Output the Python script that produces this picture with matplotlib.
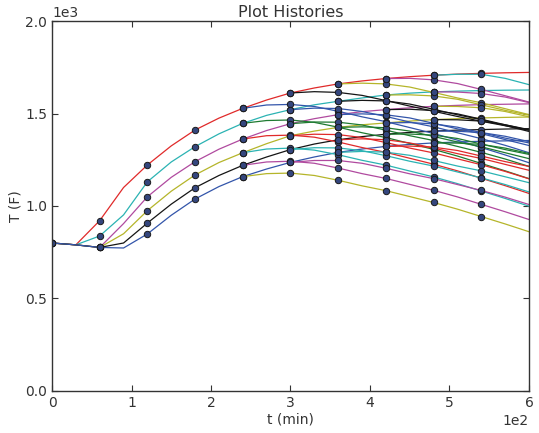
import matplotlib
matplotlib.use("Agg")
import matplotlib.pyplot as plt
from matplotlib.ticker import MultipleLocator

# time grid (min), 30-minute steps
t_full = [0, 30, 60, 90, 120, 150, 180, 210, 240, 270, 300, 330, 360, 390,
          420, 450, 480, 510, 540, 570, 600]

# main heating histories
main_red     = [800, 790, 921, 1100, 1222, 1325, 1411, 1475, 1528, 1573, 1611, 1638, 1660, 1676, 1689, 1699, 1707, 1713, 1717, 1720, 1722]
main_cyan    = [800, 790, 838, 952, 1131, 1238, 1321, 1390, 1447, 1490, 1521, 1547, 1566, 1584, 1600, 1610, 1617, 1621, 1624, 1626, 1627]
main_magenta = [800, 790, 776, 905, 1050, 1155, 1240, 1307, 1362, 1408, 1445, 1472, 1494, 1510, 1521, 1531, 1539, 1544, 1548, 1550, 1552]
main_yellow  = [800, 790, 776, 850, 975, 1080, 1168, 1235, 1288, 1337, 1380, 1405, 1425, 1439, 1449, 1459, 1467, 1472, 1476, 1479, 1481]
main_black   = [800, 790, 776, 800, 908, 1010, 1099, 1165, 1220, 1265, 1305, 1335, 1358, 1375, 1388, 1398, 1405, 1410, 1413, 1416, 1418]
main_blue    = [800, 790, 776, 773, 849, 950, 1038, 1105, 1159, 1200, 1236, 1265, 1290, 1308, 1322, 1333, 1341, 1346, 1350, 1352, 1354]

# branches leaving the main histories at 240, 300, 360, 420, 480 min
branch_240 = [
    [1528, 1546, 1549, 1538, 1512, 1482, 1456, 1424, 1392, 1356, 1316, 1276, 1234],
    [1447, 1462, 1465, 1452, 1426, 1396, 1370, 1338, 1306, 1270, 1230, 1190, 1148],
    [1362, 1380, 1383, 1372, 1346, 1316, 1290, 1258, 1226, 1190, 1150, 1110, 1068],
    [1288, 1308, 1313, 1302, 1277, 1247, 1221, 1189, 1157, 1121, 1081, 1041, 999],
    [1220, 1238, 1242, 1231, 1205, 1175, 1149, 1117, 1085, 1049, 1009, 969, 927],
    [1159, 1175, 1178, 1165, 1139, 1109, 1083, 1051, 1019, 983, 943, 903, 861],
]
branch_300 = [
    [1611, 1618, 1614, 1598, 1570, 1540, 1512, 1484, 1458, 1434, 1410],
    [1521, 1529, 1527, 1511, 1484, 1454, 1428, 1396, 1364, 1328, 1288],
    [1445, 1454, 1453, 1438, 1410, 1380, 1354, 1322, 1290, 1254, 1214],
    [1380, 1388, 1386, 1370, 1343, 1313, 1287, 1255, 1223, 1187, 1147],
    [1305, 1315, 1314, 1299, 1272, 1242, 1216, 1184, 1152, 1116, 1076],
    [1236, 1246, 1246, 1231, 1204, 1174, 1148, 1116, 1084, 1048, 1008],
]
branch_360 = [
    [1660, 1664, 1660, 1643, 1614, 1584, 1558, 1526, 1494],
    [1566, 1571, 1568, 1551, 1523, 1493, 1467, 1435, 1403],
    [1494, 1498, 1493, 1476, 1447, 1417, 1391, 1359, 1327],
    [1425, 1428, 1423, 1405, 1376, 1346, 1320, 1288, 1256],
    [1358, 1363, 1358, 1341, 1313, 1283, 1257, 1225, 1193],
    [1290, 1295, 1291, 1274, 1246, 1216, 1190, 1158, 1126],
]
branch_420 = [
    [1689, 1690, 1682, 1662, 1630, 1596, 1562],
    [1600, 1601, 1595, 1577, 1547, 1517, 1491],
    [1521, 1523, 1516, 1498, 1469, 1439, 1413],
    [1449, 1451, 1444, 1426, 1397, 1367, 1341],
    [1388, 1389, 1383, 1365, 1335, 1305, 1279],
    [1322, 1324, 1318, 1300, 1270, 1240, 1214],
]
branch_480 = [
    [1707, 1712, 1712, 1690, 1656],
    [1617, 1616, 1608, 1589, 1559],
    [1539, 1538, 1531, 1511, 1482],
    [1467, 1466, 1459, 1439, 1410],
    [1405, 1404, 1397, 1377, 1348],
    [1341, 1340, 1333, 1313, 1284],
]
branch_starts = [240, 300, 360, 420, 480]

cycle = ['#3355aa', '#1e7a30', '#e02a2a', '#2bb3b3', '#b04a9f', '#b5b52a', '#151515']
mains = [main_red, main_cyan, main_magenta, main_yellow, main_black, main_blue]
main_color_idx = [2, 3, 4, 5, 6, 0]

fig = plt.figure(figsize=(5.39, 4.33), dpi=100)
ax = fig.add_axes([0.0965, 0.097, 0.8849, 0.8545])

mk = dict(marker='o', markersize=4.6, markerfacecolor='#34467e',
          markeredgecolor='#1a1a1a', markeredgewidth=0.7)

def marks(ts):
    return [k for k, tv in enumerate(ts) if tv % 60 == 0 and tv <= 540]

for i, m in enumerate(mains):
    ax.plot(t_full, m, color=cycle[main_color_idx[i]], lw=0.9,
            markevery=marks(t_full), **mk)

for L, (tb, group) in enumerate(zip(branch_starts, [branch_240, branch_300, branch_360, branch_420, branch_480])):
    for i, vals in enumerate(group):
        ts = [tb + 30 * k for k in range(len(vals))]
        ax.plot(ts, vals, color=cycle[(i - L) % 7], lw=0.9,
                markevery=marks(ts), **mk)

ax.set_xlim(0, 600)
ax.set_ylim(0, 2000)
ax.xaxis.set_major_locator(MultipleLocator(100))
ax.yaxis.set_major_locator(MultipleLocator(500))
ax.ticklabel_format(style='sci', axis='both', scilimits=(0, 0))
ax.tick_params(direction='in', top=True, right=True, length=4, width=0.8,
               colors='#333333', labelsize=10, labelcolor='#333333')
for sp in ax.spines.values():
    sp.set_color('#333333')
    sp.set_linewidth(1.0)
xoff = ax.xaxis.get_offset_text()
xoff.set_color('#333333')
xoff.set_fontsize(10)
ax.yaxis.get_offset_text().set_visible(False)
ax.text(0.0, 1.004, '1e3', transform=ax.transAxes, ha='left', va='bottom',
        fontsize=10, color='#333333')

ax.set_title('Plot Histories', fontsize=11.5, color='#333333', pad=3)
ax.set_xlabel('t (min)', fontsize=10, color='#333333', labelpad=2)
ax.set_ylabel('T (F)', fontsize=10, color='#333333', labelpad=2)

fig.savefig('out.png', dpi=100)
